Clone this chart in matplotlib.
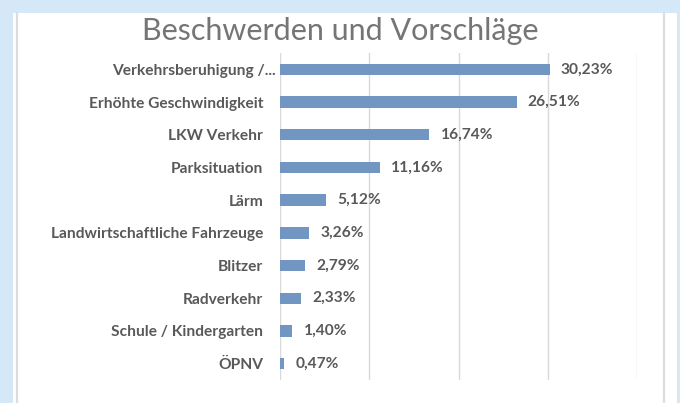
import matplotlib

matplotlib.use("Agg")
import matplotlib.pyplot as plt  # noqa: E402
from matplotlib.lines import Line2D  # noqa: E402
from matplotlib.patches import Rectangle  # noqa: E402

plt.rcParams["font.family"] = ["Lato", "DejaVu Sans"]

categories = [
    "Verkehrsberuhigung /...",
    "Erhöhte Geschwindigkeit",
    "LKW Verkehr",
    "Parksituation",
    "Lärm",
    "Landwirtschaftliche Fahrzeuge",
    "Blitzer",
    "Radverkehr",
    "Schule / Kindergarten",
    "ÖPNV",
]
shares = [30.23, 26.51, 16.74, 11.16, 5.12, 3.26, 2.79, 2.33, 1.40, 0.47]
x_ticks = [0, 10, 20, 30, 40]

BG = "#D5E8F7"
BAR = "#7196C2"
GRID = "#D9D9D9"
LABEL = "#595959"
TITLE = "#757575"

W, H = 680, 403
fig = plt.figure(figsize=(W / 100, H / 100), dpi=100)
fig.patch.set_facecolor(BG)

# white chart panel with the thin grey edges of the screenshot
fig.add_artist(Rectangle((13 / W, 0), (677 - 13) / W, 1 - 13 / H,
                         transform=fig.transFigure, facecolor="white",
                         edgecolor="none", zorder=0))
for xp in (17, 664):
    fig.add_artist(Line2D([xp / W, xp / W], [0, 1 - 13 / H],
                          transform=fig.transFigure, color="#DCDCDC",
                          linewidth=1.6, zorder=1))

ax = fig.add_axes([280 / W, 1 - 380 / H, (637 - 280) / W, (380 - 53) / H])
ax.set_facecolor("none")
y = list(range(len(categories)))
ax.barh(y, shares, 0.35, color=BAR, zorder=3)
ax.set_ylim(len(categories) - 0.5, -0.5)
ax.set_xlim(x_ticks[0], x_ticks[-1])
ax.set_xticks(x_ticks)
ax.xaxis.grid(True, color=GRID, linewidth=1.0)
ax.tick_params(axis="x", length=0, labelbottom=False)
ax.tick_params(axis="y", length=0, pad=12, labelsize=11.2, labelcolor=LABEL)
for s in ax.spines.values():
    s.set_visible(False)
ax.set_yticks(y)
ax.set_yticklabels(categories, fontweight="bold")
# the truncated first label sits closer to the axis
ax.yaxis.get_major_ticks()[0].set_pad(3)

for yi, v in zip(y, shares):
    ax.annotate(f"{v:.2f}".replace(".", ",") + "%", (v, yi),
                xytext=(8, 0), textcoords="offset points",
                va="center", ha="left", fontsize=11.2, fontweight="bold",
                color=LABEL)

fig.text(340 / W, 1 - 31 / H, "Beschwerden und Vorschläge", ha="center",
         va="center", fontsize=22, color=TITLE)

fig.savefig("out.png", dpi=100, facecolor=BG)
